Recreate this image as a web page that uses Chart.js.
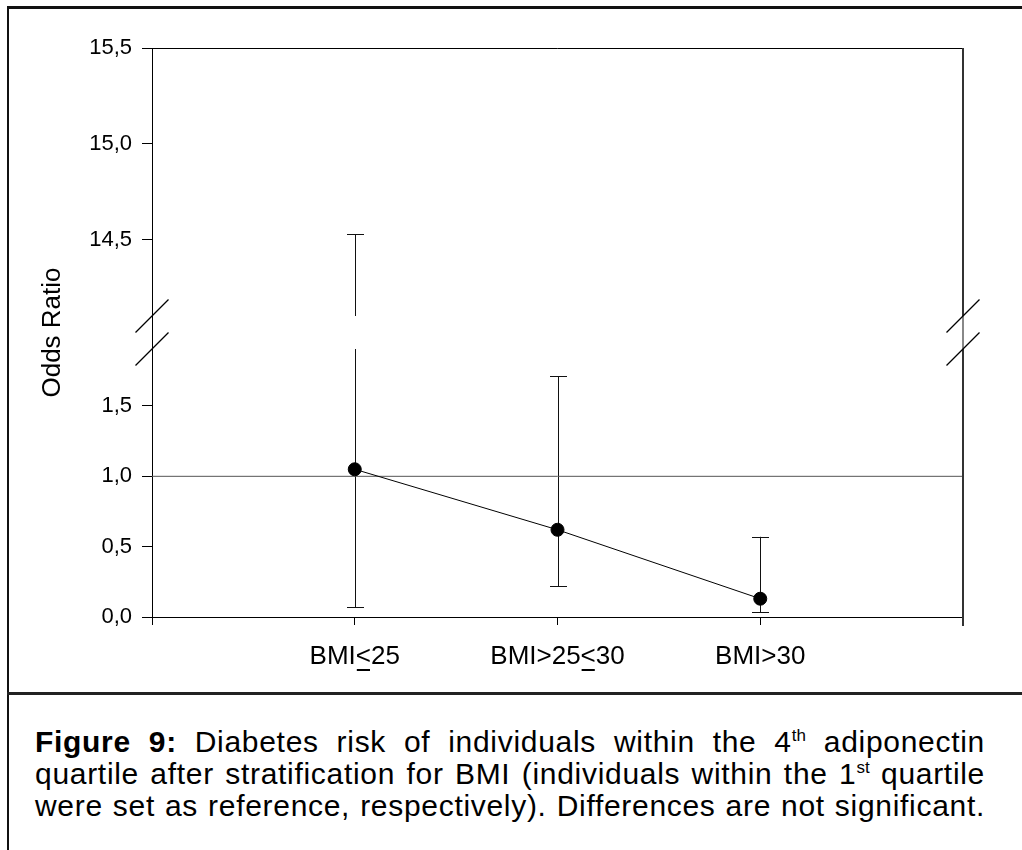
<!DOCTYPE html>
<html>
<head>
<meta charset="utf-8">
<script src="https://cdn.jsdelivr.net/npm/chart.js@4.4.1/dist/chart.umd.min.js"></script>
<style>
  html, body { margin: 0; padding: 0; background: #fff; }
  body { width: 1022px; height: 850px; position: relative; overflow: hidden; font-family: "Liberation Sans", Arial, sans-serif; }
  #frame { position: absolute; left: 7px; top: 6px; width: 1030px; height: 900px; border-left: 2px solid #111; border-top: 3px solid #111; }
  #sep { position: absolute; left: 7px; top: 692px; width: 1030px; height: 0; border-top: 3px solid #222; }
  #chart { position: absolute; left: 0; top: 0; }
  #caption { position: absolute; left: 35px; top: 726px; width: 950px; font-size: 30px; line-height: 32px; letter-spacing: 0.7px; color: #000; }
  #caption div { text-align: justify; text-align-last: justify; white-space: nowrap; }
  #caption sup { font-size: 17px; line-height: 0; vertical-align: 11px; letter-spacing: 0; }
</style>
</head>
<body>
<div id="frame"></div>
<div id="sep"></div>
<canvas id="chart" width="1022" height="690"></canvas>
<div id="caption">
  <div><b>Figure 9:</b> Diabetes risk of individuals within the 4<sup>th</sup> adiponectin</div>
  <div>quartile after stratification for BMI (individuals within the 1<sup>st</sup> quartile</div>
  <div>were set as reference, respectively). Differences are not significant.</div>
</div>
<script>
// data
const categories = ["BMI<25", "BMI>25<30", "BMI>30"];
const oddsRatio = [1.05, 0.62, 0.13];
const ciLower = [0.07, 0.22, 0.035];
const ciUpper = [14.53, 1.71, 0.57];
const referenceValue = 1.0;
const lowTicks = [0.0, 0.5, 1.0, 1.5];
const highTicks = [14.5, 15.0, 15.5];

// broken axis: lower part 0..LOW_MAX, upper part HIGH_MIN..HIGH_MAX
const LOW_MAX = 1.905;
const HIGH_MIN = 14.104;
const HIGH_MAX = 15.5;
const LOW_LEN = 268, GAP = 33, HIGH_LEN = 268;

function toAxis(v) {
  if (v <= LOW_MAX) return v / LOW_MAX * LOW_LEN;
  return LOW_LEN + GAP + (v - HIGH_MIN) / (HIGH_MAX - HIGH_MIN) * HIGH_LEN;
}

const allTicks = lowTicks.concat(highTicks);
const fmt = v => v.toFixed(1).replace(".", ",");

const errorBars = {
  id: "errorBars",
  beforeDatasetsDraw(chart) {
    const ctx = chart.ctx;
    const xs = chart.scales.x, ys = chart.scales.y;
    ctx.save();
    ctx.strokeStyle = "#111";
    ctx.lineWidth = 1;
    categories.forEach((c, i) => {
      const x = Math.round(xs.getPixelForValue(i + 1)) + 0.5;
      const lo = ciLower[i], hi = ciUpper[i];
      const segs = hi > LOW_MAX ? [[lo, LOW_MAX], [HIGH_MIN, hi]] : [[lo, hi]];
      segs.forEach(s => {
        ctx.beginPath();
        ctx.moveTo(x, ys.getPixelForValue(toAxis(s[0])));
        ctx.lineTo(x, ys.getPixelForValue(toAxis(s[1])));
        ctx.stroke();
      });
      [lo, hi].forEach(v => {
        const y = Math.round(ys.getPixelForValue(toAxis(v))) + 0.5;
        ctx.beginPath();
        ctx.moveTo(x - 8.5, y);
        ctx.lineTo(x + 8.5, y);
        ctx.stroke();
      });
    });
    ctx.restore();
  }
};

const frameAndBreaks = {
  id: "frameAndBreaks",
  afterDraw(chart) {
    const ctx = chart.ctx;
    const a = chart.chartArea;
    const ys = chart.scales.y, xs = chart.scales.x;
    const yHi = ys.getPixelForValue(toAxis(HIGH_MIN));
    const yLo = ys.getPixelForValue(toAxis(LOW_MAX));
    ctx.save();
    ctx.lineWidth = 1;
    // top and right border
    ctx.strokeStyle = "#000";
    ctx.beginPath();
    ctx.moveTo(a.left, Math.round(a.top) + 0.5);
    ctx.lineTo(a.right + 0.5, Math.round(a.top) + 0.5);
    ctx.stroke();
    ctx.lineWidth = 2;
    ctx.strokeStyle = "#333";
    const rx = Math.round(a.right);
    ctx.beginPath();
    ctx.moveTo(rx, a.top);
    ctx.lineTo(rx, yHi);
    ctx.moveTo(rx, yLo);
    ctx.lineTo(rx, a.bottom + 9);
    ctx.stroke();
    ctx.strokeStyle = "#888";
    ctx.beginPath();
    ctx.moveTo(rx, yHi);
    ctx.lineTo(rx, yLo);
    ctx.stroke();
    // break marks
    ctx.strokeStyle = "#000";
    ctx.lineWidth = 1.2;
    [a.left, a.right].forEach(x => {
      [yHi, yLo].forEach(y => {
        ctx.beginPath();
        ctx.moveTo(x - 16.5, y + 16.5);
        ctx.lineTo(x + 16.5, y - 16.5);
        ctx.stroke();
      });
    });
    // underline the "<" in the category labels (≤)
    ctx.font = "26px 'Liberation Sans', Arial, sans-serif";
    ctx.lineWidth = 2;
    const uy = xs.top + 53;
    categories.forEach((c, i) => {
      const idx = c.lastIndexOf("<");
      if (idx < 0) return;
      const cx = xs.getPixelForValue(i + 1);
      const w = ctx.measureText(c).width;
      const x0 = cx - w / 2 + ctx.measureText(c.slice(0, idx)).width;
      const cw = ctx.measureText("<").width;
      ctx.beginPath();
      ctx.moveTo(x0 + 1, uy);
      ctx.lineTo(x0 + cw - 1, uy);
      ctx.stroke();
    });
    ctx.restore();
  }
};

const chart = new Chart(document.getElementById("chart").getContext("2d"), {
  type: "line",
  data: {
    datasets: [
      {
        label: "Odds Ratio",
        data: oddsRatio.map((v, i) => ({ x: i + 1, y: toAxis(v) })),
        borderColor: "#000",
        borderWidth: 1,
        pointRadius: 6.5,
        pointBackgroundColor: "#000",
        pointBorderColor: "#000",
        tension: 0,
        order: 0
      },
      {
        label: "Reference",
        data: [{ x: 0, y: toAxis(referenceValue) }, { x: categories.length + 1, y: toAxis(referenceValue) }],
        borderColor: "#555",
        borderWidth: 1,
        pointRadius: 0,
        order: 1
      }
    ]
  },
  options: {
    responsive: false,
    animation: false,
    devicePixelRatio: 1,
    layout: { padding: { left: 0, top: 48, right: 59, bottom: 0 } },
    plugins: { legend: { display: false }, tooltip: { enabled: false } },
    scales: {
      x: {
        type: "linear",
        min: 0,
        max: categories.length + 1,
        afterFit(scale) { scale.height = 73; },
        afterBuildTicks(scale) {
          scale.ticks = [0, 1, 2, 3, 4].map(v => ({ value: v }));
        },
        ticks: {
          autoSkip: false,
          maxRotation: 0,
          padding: 16,
          color: "#000",
          font: { family: "'Liberation Sans', Arial, sans-serif", size: 26 },
          callback: v => categories[v - 1] || ""
        },
        grid: { drawOnChartArea: false, drawTicks: true, tickLength: 8, color: "#000", lineWidth: 1 },
        border: { display: true, color: "#000", width: 1 }
      },
      y: {
        type: "linear",
        min: 0,
        max: LOW_LEN + GAP + HIGH_LEN,
        afterFit(scale) { scale.width = 152; },
        afterBuildTicks(scale) {
          scale.ticks = allTicks.map(v => ({ value: toAxis(v) }));
        },
        ticks: {
          autoSkip: false,
          padding: 10,
          color: "#000",
          font: { family: "'Liberation Sans', Arial, sans-serif", size: 22 },
          callback: (v, i) => fmt(allTicks[i])
        },
        grid: { drawOnChartArea: false, drawTicks: true, tickLength: 10, color: "#000", lineWidth: 1 },
        border: { display: true, color: "#000", width: 1 },
        title: {
          display: true,
          text: "Odds Ratio",
          color: "#000",
          font: { family: "'Liberation Sans', Arial, sans-serif", size: 26 },
          padding: { top: 37, bottom: 0 }
        }
      }
    }
  },
  plugins: [errorBars, frameAndBreaks]
});
</script>
</body>
</html>
